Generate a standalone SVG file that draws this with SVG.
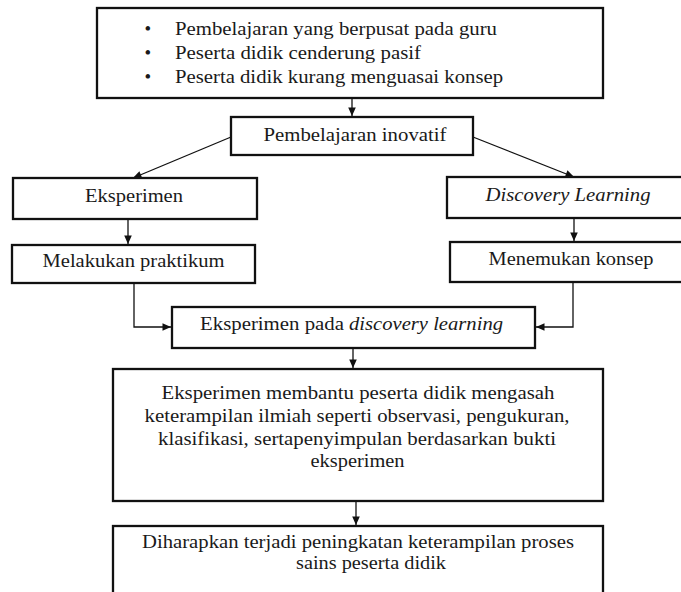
<svg xmlns="http://www.w3.org/2000/svg" width="681" height="592" viewBox="0 0 681 592">
<defs>
<marker id="ah" markerWidth="10" markerHeight="10" refX="9" refY="5" orient="auto" markerUnits="userSpaceOnUse">
<path d="M0.5,1.2 L9,5 L0.5,8.8 Z" fill="#111"/>
</marker>
<style>
.box{fill:#fff;stroke:#111;stroke-width:2.3}
.t{font-family:"Liberation Serif","Times New Roman",serif;font-size:19px;fill:#1a1a1a}
.c{text-anchor:middle}
.i{font-style:italic}
.ln{fill:none;stroke:#111;stroke-width:1.3}
</style>
</defs>
<rect width="681" height="592" fill="#fff"/>
<g id="connectors">
<line class="ln" x1="352" y1="98" x2="352" y2="116" marker-end="url(#ah)"/>
<line class="ln" x1="231" y1="137" x2="133" y2="178" marker-end="url(#ah)"/>
<line class="ln" x1="473" y1="137" x2="574" y2="177" marker-end="url(#ah)"/>
<line class="ln" x1="128" y1="219" x2="128" y2="244" marker-end="url(#ah)"/>
<line class="ln" x1="574" y1="218" x2="574" y2="241" marker-end="url(#ah)"/>
<polyline class="ln" points="134,283 134,327 171,327" marker-end="url(#ah)"/>
<polyline class="ln" points="573,282 573,327 536,327" marker-end="url(#ah)"/>
<line class="ln" x1="353" y1="348" x2="353" y2="368" marker-end="url(#ah)"/>
<line class="ln" x1="356" y1="501" x2="356" y2="525" marker-end="url(#ah)"/>
</g>
<g id="problems">
<rect class="box" x="97" y="8" width="506" height="90"/>
<text class="t" x="144.5" y="35">•</text>
<text class="t" x="144.5" y="59">•</text>
<text class="t" x="144.5" y="83">•</text>
<text class="t" x="175" y="35" textLength="322" lengthAdjust="spacingAndGlyphs">Pembelajaran yang berpusat pada guru</text>
<text class="t" x="175" y="59" textLength="246" lengthAdjust="spacingAndGlyphs">Peserta didik cenderung pasif</text>
<text class="t" x="175" y="83" textLength="328" lengthAdjust="spacingAndGlyphs">Peserta didik kurang menguasai konsep</text>
</g>
<g id="inovatif">
<rect class="box" x="231" y="117" width="242" height="38"/>
<text class="t c" x="355" y="141" textLength="183" lengthAdjust="spacingAndGlyphs">Pembelajaran inovatif</text>
</g>
<g id="eksperimen">
<rect class="box" x="13" y="178" width="244" height="41"/>
<text class="t c" x="134" y="202" textLength="98" lengthAdjust="spacingAndGlyphs">Eksperimen</text>
</g>
<g id="discovery">
<rect class="box" x="447" y="177" width="250" height="41"/>
<text class="t c i" x="568" y="201" textLength="165" lengthAdjust="spacingAndGlyphs">Discovery Learning</text>
</g>
<g id="praktikum">
<rect class="box" x="12" y="245" width="243" height="38"/>
<text class="t c" x="133.5" y="267" textLength="182" lengthAdjust="spacingAndGlyphs">Melakukan praktikum</text>
</g>
<g id="konsep">
<rect class="box" x="450" y="242" width="250" height="40"/>
<text class="t c" x="571" y="265" textLength="165" lengthAdjust="spacingAndGlyphs">Menemukan konsep</text>
</g>
<g id="eksperimen-dl">
<rect class="box" x="172" y="307" width="363" height="41"/>
<text class="t" x="200" y="330" textLength="144" lengthAdjust="spacingAndGlyphs">Eksperimen pada</text>
<text class="t i" x="349" y="330" textLength="154" lengthAdjust="spacingAndGlyphs">discovery learning</text>
</g>
<g id="keterampilan">
<rect class="box" x="113" y="369" width="490" height="132"/>
<text class="t c" x="358" y="399" textLength="393" lengthAdjust="spacingAndGlyphs">Eksperimen membantu peserta didik mengasah</text>
<text class="t c" x="357" y="422" textLength="425" lengthAdjust="spacingAndGlyphs">keterampilan ilmiah seperti observasi, pengukuran,</text>
<text class="t c" x="357" y="444.5" textLength="398" lengthAdjust="spacingAndGlyphs">klasifikasi, sertapenyimpulan berdasarkan bukti</text>
<text class="t c" x="357.5" y="467" textLength="94" lengthAdjust="spacingAndGlyphs">eksperimen</text>
</g>
<g id="harapan">
<rect class="box" x="113" y="526" width="490" height="80"/>
<text class="t c" x="358" y="548" textLength="432" lengthAdjust="spacingAndGlyphs">Diharapkan terjadi peningkatan keterampilan proses</text>
<text class="t c" x="371" y="569" textLength="150" lengthAdjust="spacingAndGlyphs">sains peserta didik</text>
</g>
</svg>
